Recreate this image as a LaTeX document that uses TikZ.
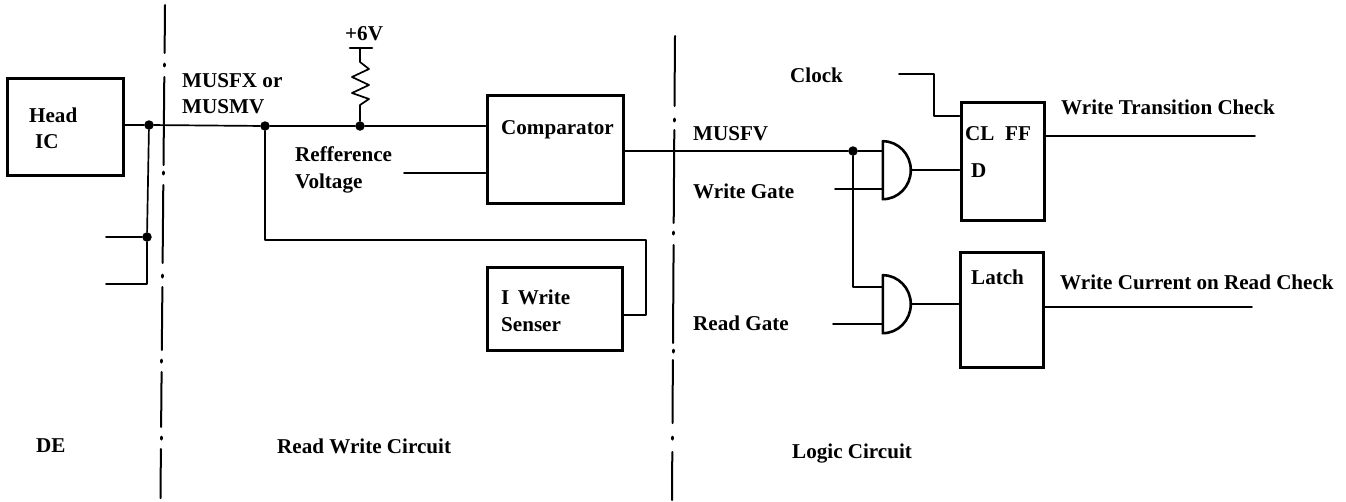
\documentclass[tikz,border=0pt]{standalone}
\usepackage{fontspec}
\setmainfont{Liberation Serif}
\begin{document}
\begin{tikzpicture}[x=1pt,y=-1pt,
  boxnode/.style={draw,line width=3pt,inner sep=0pt,rectangle},
  wire/.style={line width=1.7pt,line cap=round,line join=round},
  divider/.style={line width=2pt,line cap=round},
  divdot/.style={line width=3pt,line cap=round},
  gatebody/.style={rectangle,inner sep=0pt,minimum width=28pt,minimum height=58pt},
  gateline/.style={line width=2.6pt,line join=round},
  junction/.style={circle,fill=black,inner sep=0pt,minimum size=9.5pt},
  label/.style={anchor=base west,inner sep=0pt,font=\fontsize{21.1pt}{24pt}\selectfont\bfseries}]
\useasboundingbox (0,0) rectangle (1346,501);
% boxes
\node[boxnode,minimum width=116pt,minimum height=97pt] (head) at (65.5,126.5) {};
\node[boxnode,minimum width=136pt,minimum height=108pt] (comp) at (555,149) {};
\node[boxnode,minimum width=135pt,minimum height=83pt] (sense) at (554.5,308.5) {};
\node[boxnode,minimum width=83pt,minimum height=118pt] (ff) at (1002.5,161) {};
\node[boxnode,minimum width=83pt,minimum height=115pt] (latch) at (1001.5,309.5) {};
% gates
\node[gatebody] (g1) at (897,170) {};
\node[gatebody] (g2) at (897,304) {};
\draw[gateline] (g1.south west) arc[start angle=-90,end angle=90,x radius=28pt,y radius=29pt] -- cycle;
\draw[gateline] (g2.south west) arc[start angle=-90,end angle=90,x radius=28pt,y radius=29pt] -- cycle;
% junctions
\node[junction] (j1) at (149,125) {};
\node[junction] (j2) at (147,237) {};
\node[junction] (j3) at (265,126) {};
\node[junction] (j4) at (360,126) {};
\node[junction] (j5) at (853,151) {};
% free ends
\coordinate (s1) at (106,237);
\coordinate (s2) at (106,284);
\coordinate (c2) at (147,284);
\coordinate (rv) at (404,173);
\coordinate (clk) at (899,74);
\coordinate (wg) at (835,189);
\coordinate (rg) at (833,324);
\coordinate (o1) at (1255,136);
\coordinate (o2) at (1252,307);
\coordinate (vtop) at (360,48);
\coordinate (vl) at (350,48);
\coordinate (vr) at (372,48);
% wires
\draw[wire] (head.east |- j1) -- (j1) -- (j3) -- (j4) -- (comp.west |- j4);
\draw[wire] (j1) -- (j2) -- (c2) -- (s2);
\draw[wire] (s1) -- (j2);
\draw[wire] (rv) -- (comp.west |- rv);
\draw[wire] (j3) -- (265,240) -- (646,240) -- (646,315) -- (sense.east |- 0,315);
\draw[wire] (comp.east |- j5) -- (j5) -- (g1.west |- j5);
\draw[wire] (wg) -- (g1.west |- wg);
\draw[wire] (j5) -- (853,287) -- (g2.west |- 0,287);
\draw[wire] (rg) -- (g2.west |- rg);
\draw[wire] (g1.east) -- (ff.west |- g1.east);
\draw[wire] (g2.east) -- (latch.west |- g2.east);
\draw[wire] (clk) -- (934,74) -- (934,116) -- (ff.west |- 0,116);
\draw[wire] (ff.east |- o1) -- (o1);
\draw[wire] (latch.east |- o2) -- (o2);
% resistor
\draw[line width=2.6pt,line cap=round] (vl) -- (vr);
\draw[wire] (vtop) -- (360,62) -- (369,69) -- (352,77) -- (369,85) -- (352,93) -- (369,99) -- (360,105) -- (j4);
% dividers
\draw[divider] (165,5)--(164.6,53) (164.3,77)--(163.5,165) (163.3,185)--(162.6,263) (162.4,287)--(161.8,350) (161.6,372)--(161.1,427) (160.9,449)--(160.5,498);
\draw[divdot] (164.5,64)--(164.5,66) (163.4,172)--(163.4,174) (162.5,275)--(162.5,277) (161.7,360)--(161.7,362) (161,437)--(161,439);
\draw[divider] (675,36)--(674.5,106) (674.3,130)--(673.7,223) (673.6,245)--(673,343) (672.9,360)--(672.5,423) (672.3,452)--(672,500);
\draw[divdot] (674.4,119)--(674.4,121) (673.6,232)--(673.6,234) (673,350)--(673,352) (672.4,437)--(672.4,439);
% labels
\node[label] (t1) at (29,122) {Head};
\node[label] (t2) at (35,148) {IC};
\node[label] (t3) at (182,87) {MUSFX or};
\node[label] (t4) at (182,113) {MUSMV};
\node[label] (t5) at (345,40) {+6V};
\node[label] (t6) at (295,161) {Refference};
\node[label] (t7) at (295,188) {Voltage};
\node[label] (t8) at (501,134) {Comparator};
\node[label] (t9) at (501,304) {I\hspace{0.4em}Write};
\node[label] (t10) at (501,331) {Senser};
\node[label] (t11) at (790,82) {Clock};
\node[label] (t12) at (693,140) {MUSFV};
\node[label] (t13) at (693,198) {Write Gate};
\node[label] (t14) at (693,330) {Read Gate};
\node[label] (t15) at (965,140) {CL};
\node[label] (t16) at (1005,140) {FF};
\node[label] (t17) at (971,177) {D};
\node[label] (t18) at (971,284) {Latch};
\node[label] (t19) at (1061,114) {Write Transition Check};
\node[label] (t20) at (1060,289) {Write Current on Read Check};
\node[label] (t21) at (36,452) {DE};
\node[label] (t22) at (277,453) {Read Write Circuit};
\node[label] (t23) at (792,458) {Logic Circuit};
\end{tikzpicture}
\end{document}
